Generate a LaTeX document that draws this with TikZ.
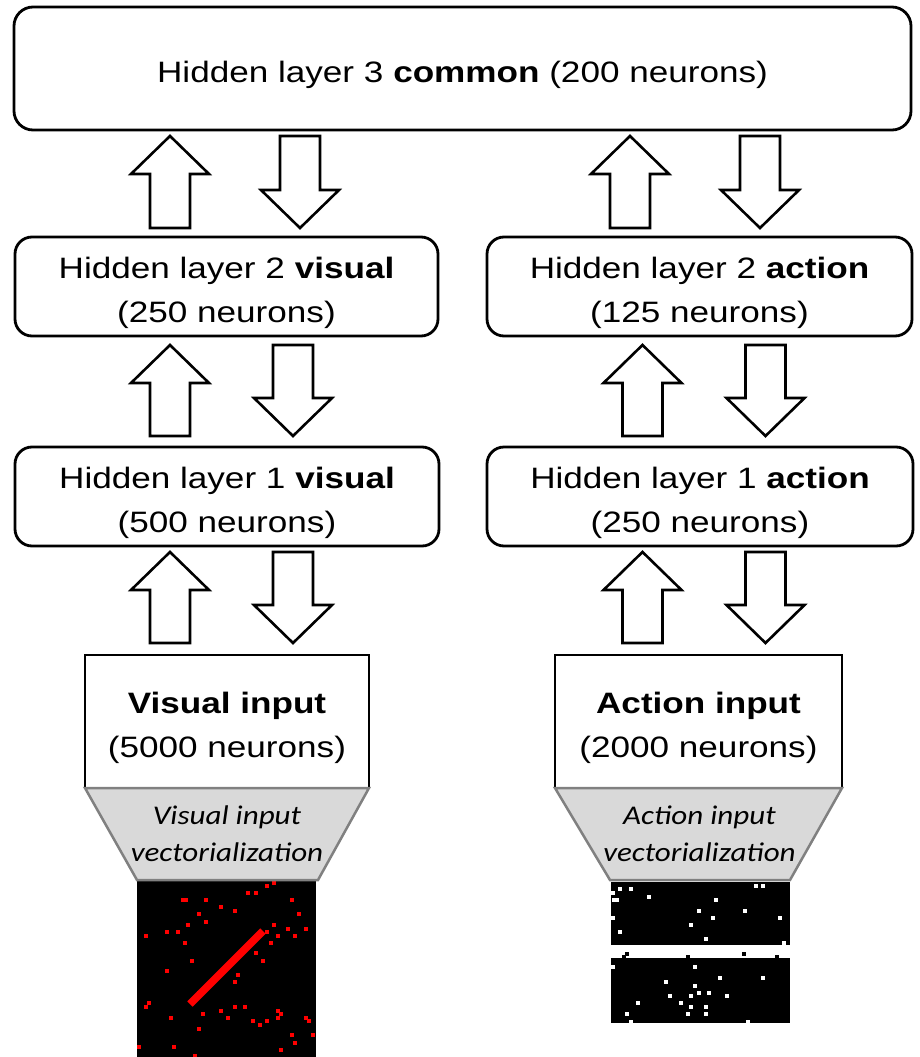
\documentclass[tikz,border=0pt]{standalone}
\usepackage{fontspec}
\setmainfont{Liberation Sans}[FakeStretch=1.19]
\newfontfamily\vecfont{Carlito}[FakeStretch=1.15]
\usetikzlibrary{calc}
\newcommand\boxstrut{\rule{0pt}{34.5pt}}
\newcommand\vecstrut{\rule{0pt}{20pt}}
\definecolor{trapfill}{RGB}{217,217,217}
\definecolor{trapline}{RGB}{128,128,128}

\begin{document}
\begin{tikzpicture}[x=1pt,y=-1pt,
  boxfont/.style={font=\fontsize{29.5}{43.5}\selectfont},
  layer/.style={boxfont, draw=black, line width=2.8pt, rounded corners=17pt,
    fill=white, inner sep=0pt, outer sep=0pt, align=center, minimum height=99pt},
  inbox/.style={boxfont, draw=black, line width=2.8pt, fill=white,
    inner sep=0pt, outer sep=0pt, align=center, minimum height=133pt},
  vectext/.style={font=\vecfont\itshape\fontsize{27}{37}\selectfont,
    inner sep=0pt, align=center},
  trap/.style={fill=trapfill, draw=trapline, line width=2.5pt, line join=miter},
  upblock/.style={draw=black, line width=2.6pt, fill=white, line join=miter,
    to path={let \p1=(\tikztostart), \p2=(\tikztotarget) in
      (\x1-20pt,\y1) -- (\x1-20pt,\y2-38pt) -- (\x1-39pt,\y2-38pt) -- (\x2,\y2)
      -- (\x1+39pt,\y2-38pt) -- (\x1+20pt,\y2-38pt) -- (\x1+20pt,\y1) -- cycle}},
  downblock/.style={draw=black, line width=2.6pt, fill=white, line join=miter,
    to path={let \p1=(\tikztostart), \p2=(\tikztotarget) in
      (\x1-20pt,\y1) -- (\x1-20pt,\y2+38pt) -- (\x1-39pt,\y2+38pt) -- (\x2,\y2)
      -- (\x1+39pt,\y2+38pt) -- (\x1+20pt,\y2+38pt) -- (\x1+20pt,\y1) -- cycle}},
  reddot/.style={fill=red},
  whitedot/.style={fill=white},
  blackdot/.style={fill=black}
]
\useasboundingbox (0,0) rectangle (920,1057);

% ---------------- layers ----------------
\node[layer, rounded corners=19pt, minimum width=897pt, minimum height=123pt]
  (hl3) at (462.5,68.5) {\boxstrut Hidden layer 3 \textbf{common} (200 neurons)};

\node[layer, minimum width=423pt] (hl2v) at (226.5,286.5)
  {\boxstrut Hidden layer 2 \textbf{visual}\\(250 neurons)};
\node[layer, minimum width=425pt] (hl2a) at (699.5,286.5)
  {\boxstrut Hidden layer 2 \textbf{action}\\(125 neurons)};

\node[layer, minimum width=424pt] (hl1v) at (227,496.5)
  {\boxstrut Hidden layer 1 \textbf{visual}\\(500 neurons)};
\node[layer, minimum width=426pt] (hl1a) at (700,496.5)
  {\boxstrut Hidden layer 1 \textbf{action}\\(250 neurons)};

% ---------------- input encodings (drawn first, funnels go on top) ----------------
% visual input image: black field, red active pixels and a red bar
\fill[black] (137,880) rectangle (316,1057);
\foreach \px/\py in {274/883,267/886,248/893,256/893,183/900,186/900,206/900,292/900,
  221/907,235/911,199/914,299/914,206/922,188/925,274/925,288/929,306/929,
  167/932,178/932,267/932,146/936,278/936,295/936,185/943,271/943,256/953,
  192/961,263/961,167/971,238/975,235/982,199/993,149/1003,146/1007,235/1007,
  245/1007,221/1011,278/1011,281/1014,203/1014,171/1018,228/1018,278/1018,
  306/1018,253/1021,267/1021,309/1021,260/1025,199/1029,292/1035,313/1035,
  295/1043,139/1047,174/1047,281/1050,195/1056}
  \fill[reddot] (\px-1.8,\py-1.8) rectangle ++(3.6,3.6);
\draw[red, line width=7.5pt] (190,1004) -- (263,931);

% action input images: two black fields with white active pixels
\fill[black] (611,882) rectangle (790,945);
\fill[black] (611,958) rectangle (790,1023);
\foreach \px/\py in {620/889,631/889,756/886,763/886,649/897,613/893,614/900,617/900,
  716/900,699/911,745/911,613/918,713/918,780/918,691/925,620/932,706/939,784/943,
  613/967,695/967,720/978,763/978,666/982,695/986,699/993,709/993,670/996,691/996,
  727/996,638/1003,681/1003,691/1007,706/1007,627/1014,688/1014,706/1014,
  631/1022,748/1022}
  \fill[whitedot] (\px-1.6,\py-1.6) rectangle ++(3.2,3.2);
\foreach \px/\py in {627/954,624/957,688/957,744/954,777/957}
  \fill[blackdot] (\px-1.6,\py-1.6) rectangle ++(3.2,3.2);

% ---------------- input boxes ----------------
\node[inbox, minimum width=284pt] (vin) at (227,721.5)
  {\boxstrut\textbf{Visual input}\\(5000 neurons)};
\node[inbox, minimum width=287pt] (ain) at (698.5,721.5)
  {\boxstrut\textbf{Action input}\\(2000 neurons)};

% funnels from the encodings into the input boxes
\draw[trap] (vin.south west) -- (vin.south east) -- ($(vin.south east)+(-51,92)$)
  -- ($(vin.south west)+(52,92)$) -- cycle;
\draw[trap] (ain.south west) -- (ain.south east) -- ($(ain.south east)+(-52,92)$)
  -- ($(ain.south west)+(55,92)$) -- cycle;
\node[vectext] (vvec) at (227,833.5) {\vecstrut Visual input\\vectorialization};
\node[vectext] (avec) at (699.5,833.5) {\vecstrut Action input\\vectorialization};

% ---------------- block arrow columns ----------------
\coordinate (cvu) at (170,0);
\coordinate (cvd1) at (300,0);
\coordinate (cvd) at (293,0);
\coordinate (cau1) at (630,0);
\coordinate (cad1) at (760,0);
\coordinate (cau) at (642.5,0);
\coordinate (cad) at (765.5,0);

% hidden layer 2 <-> hidden layer 3
\draw[upblock] ([yshift=9pt]hl2v.north -| cvu) to ([yshift=-6pt]hl3.south -| cvu);
\draw[downblock] ([yshift=-6pt]hl3.south -| cvd1) to ([yshift=9pt]hl2v.north -| cvd1);
\draw[upblock] ([yshift=9pt]hl2a.north -| cau1) to ([yshift=-6pt]hl3.south -| cau1);
\draw[downblock] ([yshift=-6pt]hl3.south -| cad1) to ([yshift=9pt]hl2a.north -| cad1);

% hidden layer 1 <-> hidden layer 2
\draw[upblock] ([yshift=11pt]hl1v.north -| cvu) to ([yshift=-9pt]hl2v.south -| cvu);
\draw[downblock] ([yshift=-9pt]hl2v.south -| cvd) to ([yshift=11pt]hl1v.north -| cvd);
\draw[upblock] ([yshift=11pt]hl1a.north -| cau) to ([yshift=-9pt]hl2a.south -| cau);
\draw[downblock] ([yshift=-9pt]hl2a.south -| cad) to ([yshift=11pt]hl1a.north -| cad);

% input <-> hidden layer 1
\draw[upblock] ([yshift=12pt]vin.north -| cvu) to ([yshift=-6pt]hl1v.south -| cvu);
\draw[downblock] ([yshift=-6pt]hl1v.south -| cvd) to ([yshift=12pt]vin.north -| cvd);
\draw[upblock] ([yshift=12pt]ain.north -| cau) to ([yshift=-6pt]hl1a.south -| cau);
\draw[downblock] ([yshift=-6pt]hl1a.south -| cad) to ([yshift=12pt]ain.north -| cad);
\end{tikzpicture}
\end{document}
